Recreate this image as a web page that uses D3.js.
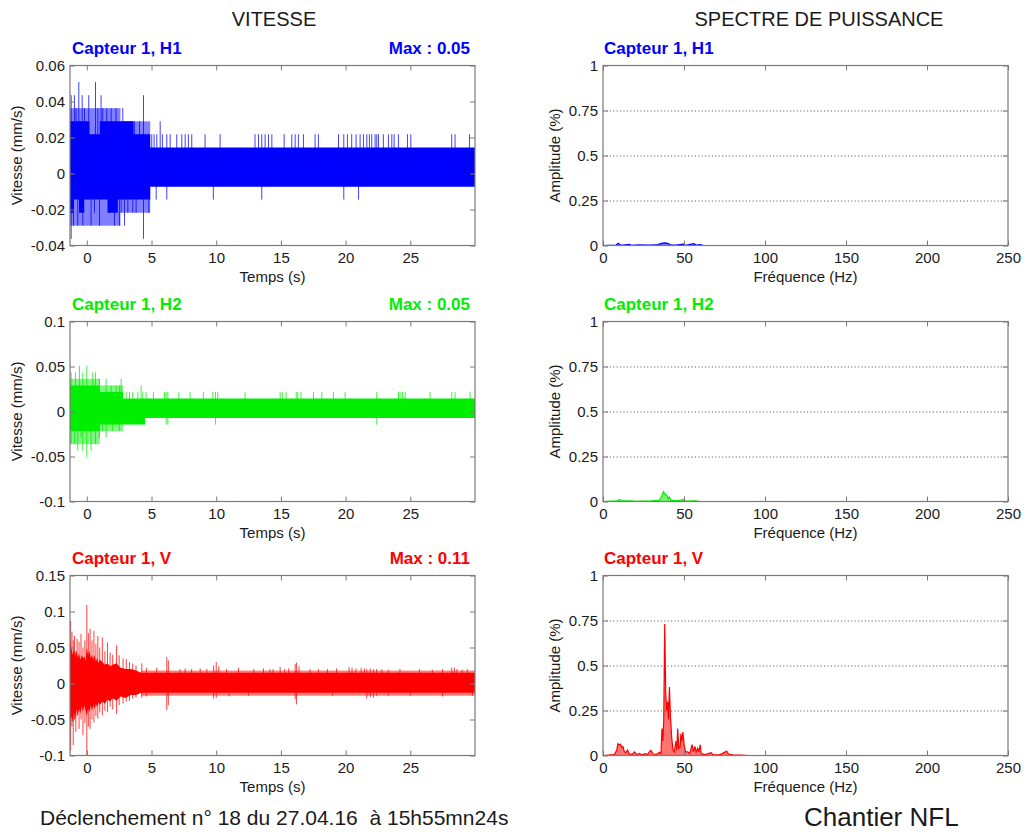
<!DOCTYPE html>
<html>
<head>
<meta charset="utf-8">
<script src="https://cdn.jsdelivr.net/npm/d3@7"></script>
<style>
  body { margin: 0; background: #fff; }
  svg text { font-family: "Liberation Sans", Arial, Helvetica, sans-serif; }
</style>
</head>
<body>
<svg id="chart" width="1028" height="832"></svg>
<script>
// ---------- Axis settings ----------
const timeDomain = [-1.3, 30];
const timeTicks = [0, 5, 10, 15, 20, 25];
const freqDomain = [0, 250];
const freqTicks = [0, 50, 100, 150, 200, 250];
const ampTicks = [0, 0.25, 0.5, 0.75, 1];
const ampGrid = [0.25, 0.5, 0.75];

const channelNames = ["Capteur 1, H1", "Capteur 1, H2", "Capteur 1, V"];
const maxLabels = ["Max : 0.05", "Max : 0.05", "Max : 0.11"];
const velDomains = [[-0.04, 0.06], [-0.1, 0.1], [-0.1, 0.15]];
const velTicks = [
  [-0.04, -0.02, 0, 0.02, 0.04, 0.06],
  [-0.1, -0.05, 0, 0.05, 0.1],
  [-0.1, -0.05, 0, 0.05, 0.1, 0.15]
];

// ---------- Velocity traces (mm/s) ----------
// core: [t, low, high] envelope of the dense part of the record
// fringe: [t0, t1, low, high] zone filled by sparse oscillations
// spikes: [t, low, high] isolated excursions

const h1Core = [
  [-1.3, -0.0218, 0.029], [-1.0, -0.0145, 0.029], [-0.6, -0.0218, 0.029],
  [-0.2, -0.0145, 0.029], [0.2, -0.0145, 0.0218], [1.0, -0.0145, 0.029],
  [1.6, -0.0218, 0.029], [2.4, -0.0145, 0.029], [3.6, -0.0145, 0.0218],
  [4.9, -0.0073, 0.0145], [30, -0.0073, 0.0145]
];
const h1Fringe = [
  [-1.3, 2.6, -0.029, 0.0363],
  [2.6, 4.9, -0.0218, 0.029]
];
const h1Spikes = [
  [-1.21, -0.0363, 0.0435], [-1.03, -0.029, 0], [-0.96, 0, 0.0435], [-0.83, 0, 0.0363],
  [-0.7, -0.029, 0], [-0.62, 0, 0.0508], [-0.36, 0, 0.0435], [-0.31, -0.029, 0],
  [-0.18, 0, 0.0363], [0.15, 0, 0.0435], [0.33, -0.029, 0], [0.59, -0.0218, 0],
  [0.67, 0, 0.0508], [0.85, 0, 0.0363], [0.98, -0.029, 0], [1.1, 0, 0.0435],
  [1.23, 0, 0.0363], [1.54, 0, 0.0363], [1.75, -0.0218, 0], [1.88, 0, 0.0363],
  [2.14, -0.029, 0], [2.26, 0, 0.0363], [2.52, -0.029, 0], [2.65, -0.0218, 0],
  [2.78, 0, 0.0363], [2.91, -0.029, 0], [3.04, 0, 0.029], [3.17, -0.0218, 0],
  [3.35, 0, 0.029], [3.55, -0.0218, 0.029], [3.68, 0, 0.029], [3.81, -0.0218, 0],
  [4.07, 0, 0.029], [4.38, -0.0363, 0.0435], [4.79, -0.0218, 0.0218],
  [5.02, 0, 0.0218], [5.2, 0, 0.0218], [5.36, -0.0145, 0], [5.41, 0, 0.0218],
  [5.67, 0, 0.029], [5.84, 0, 0.0218], [6.18, -0.0145, 0.0218], [6.44, 0, 0.0218],
  [6.95, 0, 0.0218], [7.34, 0, 0.0218], [7.6, 0, 0.0218], [7.85, 0, 0.0218],
  [8.11, 0, 0.0218], [9.14, 0, 0.0218], [9.78, -0.0145, 0], [10.3, 0, 0.0218],
  [13.0, 0, 0.0218], [13.27, 0, 0.0218], [13.52, -0.0145, 0.0218], [13.78, 0, 0.0218],
  [14.04, 0, 0.0218], [14.3, 0, 0.0218], [15.25, 0, 0.0218], [15.84, 0, 0.0218],
  [16.1, 0, 0.0218], [16.35, 0, 0.0218], [16.74, 0, 0.0218], [17.64, 0, 0.0218],
  [17.9, 0, 0.0218], [19.45, 0, 0.0218], [19.86, -0.0145, 0.0218], [20.14, 0, 0.0218],
  [20.47, 0, 0.0218], [20.81, 0, 0.0218], [21.0, -0.0145, 0], [21.12, 0, 0.0218],
  [21.38, 0, 0.0218], [21.64, 0, 0.0218], [21.84, 0, 0.0218], [22.02, 0, 0.0218],
  [22.28, 0, 0.0218], [22.41, 0, 0.0218], [22.54, 0, 0.0218], [22.92, 0, 0.0218],
  [23.31, 0, 0.0218], [23.57, 0, 0.0218], [23.75, 0, 0.0218], [24.08, 0, 0.0218],
  [24.78, 0, 0.0218], [25.04, 0, 0.0218], [28.2, 0, 0.0218], [28.46, 0, 0.0218],
  [29.57, 0, 0.0218]
];

const h2Core = [
  [-1.3, -0.0218, 0.029], [1.0, -0.0145, 0.0218], [2.8, -0.0145, 0.0145],
  [4.5, -0.0073, 0.0145], [30, -0.0073, 0.0145]
];
const h2Fringe = [
  [-1.3, 1.0, -0.0363, 0.0363],
  [1.0, 2.8, -0.0218, 0.029]
];
const h2Spikes = [
  [-1.21, -0.0363, 0.0435], [-0.96, -0.0363, 0], [-0.88, 0, 0.0435], [-0.7, -0.0435, 0],
  [-0.57, 0, 0.0508], [-0.44, -0.029, 0], [-0.31, -0.0435, 0.0435], [0.0, -0.0508, 0.0508],
  [0.33, -0.0435, 0], [0.46, 0, 0.0435], [0.67, -0.0363, 0.0435], [0.98, -0.029, 0.0363],
  [1.23, -0.0218, 0], [1.49, -0.029, 0.0363], [1.88, 0, 0.029], [2.0, -0.0218, 0],
  [2.26, 0, 0.029], [2.52, -0.0218, 0.029], [2.65, 0, 0.0363], [3.04, 0, 0.0218],
  [3.17, -0.0145, 0], [3.3, 0, 0.0218], [3.55, -0.0145, 0.0218], [3.94, 0, 0.0218],
  [4.12, -0.0145, 0], [4.2, 0, 0.029], [4.33, 0, 0.0218], [4.58, 0, 0.0218],
  [5.15, 0, 0.0218], [6.0, 0, 0.0218], [6.13, -0.0145, 0.0218], [6.26, -0.0145, 0.0218],
  [7.11, 0, 0.0218], [7.98, 0, 0.0218], [9.01, 0, 0.0218], [9.74, 0, 0.0218],
  [9.94, -0.0145, 0.0218], [10.12, 0, 0.0218], [12.23, 0, 0.0218], [14.94, 0, 0.0218],
  [15.1, 0, 0.0218], [15.4, 0, 0.0218], [16.18, 0, 0.0218], [16.3, 0, 0.0218],
  [16.55, 0, 0.0218], [17.52, 0, 0.0218], [18.16, 0, 0.0218], [19.06, 0, 0.0218],
  [19.96, 0, 0.0218], [22.41, -0.0145, 0.0218], [24.09, 0, 0.0218], [24.21, 0, 0.0218],
  [24.4, 0, 0.0218], [24.6, 0, 0.0218], [26.53, 0, 0.0218], [28.2, 0, 0.0218],
  [28.46, 0, 0.0218], [29.62, 0, 0.0218]
];

const vCore = [
  [-1.3, -0.06, 0.06], [-1.2, -0.045, 0.05], [-1.1, -0.055, 0.04], [-1.0, -0.04, 0.048],
  [-0.9, -0.05, 0.038], [-0.8, -0.035, 0.045], [-0.7, -0.045, 0.035], [-0.6, -0.035, 0.042],
  [-0.5, -0.042, 0.033], [-0.4, -0.032, 0.04], [-0.3, -0.04, 0.035], [-0.2, -0.03, 0.038],
  [-0.1, -0.038, 0.032], [0.0, -0.045, 0.05], [0.1, -0.035, 0.04], [0.2, -0.04, 0.045],
  [0.3, -0.03, 0.035], [0.4, -0.038, 0.04], [0.5, -0.03, 0.033], [0.6, -0.035, 0.04],
  [0.7, -0.028, 0.03], [0.8, -0.033, 0.036], [0.9, -0.026, 0.028], [1.0, -0.03, 0.033],
  [1.2, -0.025, 0.03], [1.4, -0.028, 0.026], [1.6, -0.022, 0.028], [1.8, -0.025, 0.024],
  [2.0, -0.02, 0.026], [2.3, -0.024, 0.028], [2.6, -0.018, 0.022], [3.0, -0.02, 0.02],
  [3.4, -0.016, 0.02], [3.8, -0.016, 0.018], [4.2, -0.013, 0.015], [30, -0.013, 0.015]
];
const vFringe = [
  [4.2, 30, -0.017, 0.018]
];
const vSpikes = [
  [-1.25, -0.093, 0.087], [-1.15, -0.06, 0.072], [-1.05, -0.086, 0.06], [-0.95, -0.05, 0.066],
  [-0.85, -0.067, 0.045], [-0.75, -0.045, 0.062], [-0.6, -0.063, 0.058], [-0.45, -0.05, 0.069],
  [-0.3, -0.072, 0.05], [-0.15, -0.055, 0.06], [0.0, -0.1, 0.109], [0.12, -0.06, 0.07],
  [0.25, -0.063, 0.076], [0.4, -0.05, 0.06], [0.55, -0.054, 0.073], [0.7, -0.045, 0.055],
  [0.85, -0.049, 0.066], [1.0, -0.04, 0.05], [1.2, -0.044, 0.064], [1.4, -0.038, 0.045],
  [1.6, -0.04, 0.057], [1.8, -0.032, 0.043], [2.0, -0.036, 0.04], [2.3, -0.042, 0.053],
  [2.5, -0.03, 0.039], [2.8, -0.028, 0.035], [3.05, -0.025, 0.034], [3.3, -0.024, 0.03],
  [3.55, -0.021, 0.028], [3.8, -0.02, 0.025], [4.25, -0.02, 0.028], [4.6, -0.018, 0.022],
  [5.4, 0, 0.022], [6.18, -0.037, 0.037], [6.3, -0.03, 0.032], [7.2, 0, 0.02],
  [7.6, 0, 0.021], [8.1, 0, 0.02], [8.76, 0, 0.021], [9.27, 0, 0.02], [9.8, -0.021, 0.025],
  [10.0, -0.02, 0.03], [10.2, 0, 0.024], [10.8, 0, 0.02], [11.0, -0.018, 0], [11.72, 0, 0.022],
  [12.5, -0.017, 0], [12.9, 0, 0.02], [13.65, 0, 0.021], [14.15, 0, 0.02], [14.4, 0, 0.02],
  [14.94, 0, 0.023], [15.3, 0, 0.02], [15.6, 0, 0.021], [16.1, -0.022, 0.027],
  [16.2, -0.029, 0.029], [16.4, 0, 0.024], [17.25, 0, 0.02], [17.9, 0, 0.02], [18.6, 0, 0.02],
  [19.0, -0.017, 0], [19.3, 0, 0.021], [20.27, 0, 0.023], [20.5, 0, 0.022], [20.8, 0, 0.021],
  [21.2, 0, 0.022], [21.45, 0, 0.021], [21.64, -0.021, 0.02], [21.9, -0.019, 0.021],
  [22.15, -0.02, 0.02], [22.4, -0.017, 0.02], [22.8, 0, 0.02], [23.3, -0.017, 0.019],
  [24.2, 0, 0.02], [25.0, -0.017, 0], [25.7, 0, 0.02], [26.7, 0, 0.019], [27.5, -0.018, 0.02],
  [28.2, 0, 0.022], [28.4, 0, 0.022], [28.6, 0, 0.02], [29.0, 0, 0.019], [29.4, 0, 0.02],
  [29.8, -0.017, 0]
];

// ---------- Power spectra: [frequency Hz, amplitude] ----------
const h1Spectrum = [
  [0, 0], [8, 0.002], [9.3, 0.012], [10.5, 0.004], [12, 0.002], [16.4, 0.006], [17.5, 0.001],
  [22, 0.003], [28, 0.002], [33, 0.003], [36, 0.012], [38, 0.015], [40, 0.012], [41.5, 0.004],
  [45, 0.002], [49.7, 0.008], [51, 0.001], [56, 0.01], [57.5, 0.002], [60, 0.005], [62, 0], [250, 0]
];
const h2Spectrum = [
  [0, 0], [9, 0.004], [10.3, 0.012], [12, 0.003], [18, 0.004], [20, 0.001], [30, 0.003],
  [33.8, 0.006], [35, 0.01], [36.3, 0.03], [37.3, 0.055], [38.3, 0.04], [39.3, 0.035],
  [40.2, 0.015], [41, 0.025], [42, 0.006], [45, 0.003], [49.7, 0.01], [51, 0.002],
  [57, 0.004], [60, 0], [250, 0]
];
const vSpectrum = [
  [0, 0], [7, 0.005], [8.5, 0.03], [9.2, 0.065], [10, 0.06], [10.8, 0.062], [11.5, 0.045],
  [12.3, 0.05], [13, 0.025], [14, 0.015], [15.2, 0.03], [16, 0.01], [18, 0.005], [19.4, 0.02],
  [21, 0.005], [22.4, 0.012], [24, 0.004], [26, 0.01], [27.5, 0.005], [28.6, 0.02],
  [29.6, 0.028], [31, 0.008], [33, 0.006], [34.8, 0.018], [35.8, 0.01], [36.4, 0.15],
  [37, 0.08], [37.5, 0.2], [38.1, 0.73], [38.7, 0.35], [39.3, 0.25], [39.9, 0.3], [40.4, 0.2],
  [41, 0.38], [41.6, 0.22], [42.4, 0.1], [43.2, 0.03], [44, 0.02], [45.1, 0.08], [45.6, 0.03],
  [46.1, 0.15], [46.8, 0.04], [47.6, 0.05], [48.1, 0.12], [48.7, 0.08], [49.3, 0.13],
  [50.2, 0.05], [51, 0.02], [52.3, 0.02], [53.5, 0.01], [55, 0.06], [55.8, 0.02], [56.8, 0.05],
  [57.5, 0.02], [58.5, 0.04], [59.2, 0.02], [60, 0.06], [60.6, 0.01], [63, 0.005],
  [66.7, 0.015], [68, 0.003], [72, 0.004], [75.5, 0.02], [76.3, 0.025], [77.5, 0.008],
  [80, 0.003], [85, 0.002], [90, 0], [250, 0]
];

const traces = [
  { core: h1Core, fringe: h1Fringe, spikes: h1Spikes, spectrum: h1Spectrum },
  { core: h2Core, fringe: h2Fringe, spikes: h2Spikes, spectrum: h2Spectrum },
  { core: vCore, fringe: vFringe, spikes: vSpikes, spectrum: vSpectrum }
];

// ---------- Layout ----------
const colors = ["#0000ff", "#00ee00", "#ff0000"];
const coreCurves = [d3.curveStepAfter, d3.curveStepAfter, d3.curveLinear];
const leftX = [70, 475];
const rightX = [603, 1008];
const rowTops = [65.5, 321.5, 575.5];
const plotH = 180;
const axisColor = "#7a7a7a";
const textColor = "#1a1a1a";
const fmt = v => String(v);

const svg = d3.select("#chart");
svg.append("rect").attr("width", 1028).attr("height", 832).attr("fill", "#fff");

svg.append("text").attr("x", 274).attr("y", 26).attr("text-anchor", "middle")
  .attr("font-size", 20).attr("fill", textColor).text("VITESSE");
svg.append("text").attr("x", 819).attr("y", 26).attr("text-anchor", "middle")
  .attr("font-size", 20).attr("fill", textColor).text("SPECTRE DE PUISSANCE");

function frame(g, x, y, xTicks, yTicks, xLabel, yLabel, yLabelX) {
  const [x0, x1] = x.range();
  const [yb, yt] = y.range();
  // inward ticks on all four sides, labels on bottom and left only
  const bottom = g.append("g").attr("transform", `translate(0,${yb})`)
    .call(d3.axisBottom(x).tickValues(xTicks).tickFormat(fmt).tickSizeInner(-5).tickSizeOuter(0).tickPadding(7));
  const top = g.append("g").attr("transform", `translate(0,${yt})`)
    .call(d3.axisTop(x).tickValues(xTicks).tickFormat("").tickSizeInner(-5).tickSizeOuter(0));
  const left = g.append("g").attr("transform", `translate(${x0},0)`)
    .call(d3.axisLeft(y).tickValues(yTicks).tickFormat(fmt).tickSizeInner(-5).tickSizeOuter(0).tickPadding(5));
  const right = g.append("g").attr("transform", `translate(${x1},0)`)
    .call(d3.axisRight(y).tickValues(yTicks).tickFormat("").tickSizeInner(-5).tickSizeOuter(0));
  [bottom, top, left, right].forEach(a => {
    a.select(".domain").remove();
    a.selectAll(".tick line").attr("stroke", axisColor);
    a.selectAll("text").attr("font-size", 15).attr("fill", textColor)
      .style("font-family", '"Liberation Sans", Arial, sans-serif');
  });
  g.append("rect").attr("x", x0).attr("y", yt).attr("width", x1 - x0).attr("height", yb - yt)
    .attr("fill", "none").attr("stroke", axisColor).attr("stroke-width", 1.2);
  g.append("text").attr("x", (x0 + x1) / 2).attr("y", yb + 36).attr("text-anchor", "middle")
    .attr("font-size", 15).attr("fill", textColor).text(xLabel);
  g.append("text").attr("transform", `translate(${yLabelX},${(yb + yt) / 2}) rotate(-90)`)
    .attr("text-anchor", "middle").attr("dy", "0.35em")
    .attr("font-size", 15).attr("fill", textColor).text(yLabel);
}

traces.forEach((tr, i) => {
  const top = rowTops[i];
  const col = colors[i];

  // ----- velocity record -----
  const gv = svg.append("g");
  const x = d3.scaleLinear().domain(timeDomain).range(leftX);
  const y = d3.scaleLinear().domain(velDomains[i]).range([top + plotH, top]);
  const clipId = "clipv" + i;
  gv.append("clipPath").attr("id", clipId).append("rect")
    .attr("x", leftX[0]).attr("y", top).attr("width", leftX[1] - leftX[0]).attr("height", plotH);
  const plot = gv.append("g").attr("clip-path", `url(#${clipId})`);

  plot.selectAll("rect.fringe").data(tr.fringe).join("rect").attr("class", "fringe")
    .attr("x", d => x(d[0])).attr("width", d => x(d[1]) - x(d[0]))
    .attr("y", d => y(d[3])).attr("height", d => y(d[2]) - y(d[3]))
    .attr("fill", col).attr("fill-opacity", 0.5);

  const area = d3.area().x(d => x(d[0])).y0(d => y(d[1])).y1(d => y(d[2])).curve(coreCurves[i]);
  plot.append("path").datum(tr.core).attr("d", area).attr("fill", col);

  plot.selectAll("line.spike").data(tr.spikes).join("line").attr("class", "spike")
    .attr("x1", d => x(d[0])).attr("x2", d => x(d[0]))
    .attr("y1", d => y(d[1])).attr("y2", d => y(d[2]))
    .attr("stroke", col).attr("stroke-width", 1).attr("stroke-opacity", 0.75);

  frame(gv, x, y, timeTicks, velTicks[i], "Temps (s)", "Vitesse (mm/s)", 17);

  gv.append("text").attr("x", 72).attr("y", top - 12).attr("font-size", 17).attr("font-weight", "bold")
    .attr("fill", col).text(channelNames[i]);
  gv.append("text").attr("x", 470).attr("y", top - 12).attr("text-anchor", "end").attr("font-size", 17)
    .attr("font-weight", "bold").attr("fill", col).text(maxLabels[i]);

  // ----- power spectrum -----
  const gs = svg.append("g");
  const fx = d3.scaleLinear().domain(freqDomain).range(rightX);
  const fy = d3.scaleLinear().domain([0, 1]).range([top + plotH, top]);

  gs.append("g").attr("transform", `translate(${rightX[0]},0)`)
    .call(d3.axisLeft(fy).tickValues(ampGrid).tickFormat("").tickSizeInner(-(rightX[1] - rightX[0])).tickSizeOuter(0))
    .call(a => a.select(".domain").remove())
    .call(a => a.selectAll(".tick line").attr("stroke", "#666").attr("stroke-dasharray", "1.2,2.2"));

  const sArea = d3.area().x(d => fx(d[0])).y0(fy(0)).y1(d => fy(d[1]));
  const sLine = d3.line().x(d => fx(d[0])).y(d => fy(d[1]));
  gs.append("path").datum(tr.spectrum).attr("d", sArea).attr("fill", col).attr("fill-opacity", 0.55);
  gs.append("path").datum(tr.spectrum).attr("d", sLine).attr("fill", "none")
    .attr("stroke", col).attr("stroke-width", 1.2);

  frame(gs, fx, fy, freqTicks, ampTicks, "Fréquence (Hz)", "Amplitude (%)", 555);

  gs.append("text").attr("x", 604).attr("y", top - 12).attr("font-size", 17).attr("font-weight", "bold")
    .attr("fill", col).text(channelNames[i]);
});

svg.append("text").attr("x", 40).attr("y", 825).attr("font-size", 21).attr("fill", textColor)
  .attr("xml:space", "preserve").style("white-space", "pre")
  .text("Déclenchement n° 18 du 27.04.16  à 15h55mn24s");
svg.append("text").attr("x", 804).attr("y", 826).attr("font-size", 26).attr("fill", textColor)
  .text("Chantier NFL");
</script>
</body>
</html>
